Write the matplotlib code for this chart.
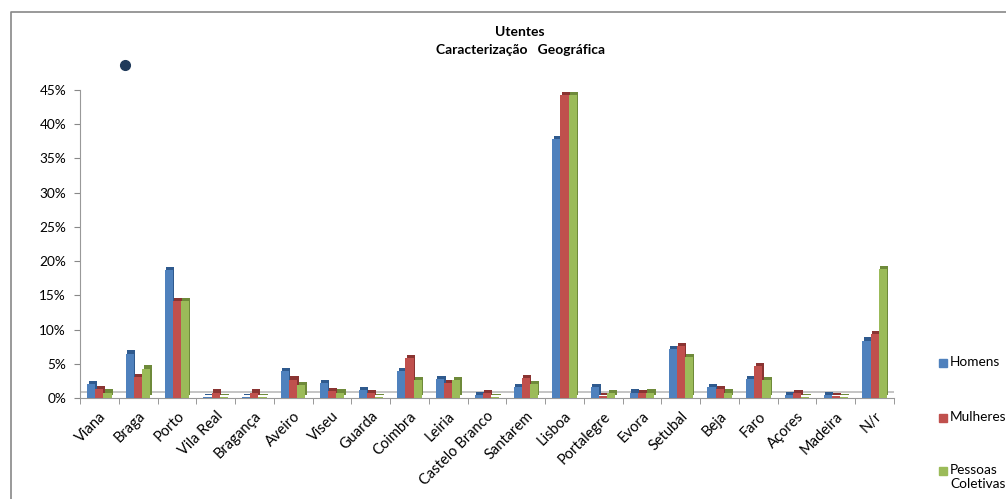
import numpy as np
import matplotlib.pyplot as plt
from matplotlib.lines import Line2D

plt.rcParams['font.family'] = ['Lato', 'DejaVu Sans']

regioes = ['Viana', 'Braga', 'Porto', 'Vila Real', 'Bragança', 'Aveiro', 'Viseu', 'Guarda',
           'Coimbra', 'Leiria', 'Castelo Branco', 'Santarem', 'Lisboa', 'Portalegre', 'Evora',
           'Setubal', 'Beja', 'Faro', 'Açores', 'Madeira', 'N/r']
homens = [2.1, 6.5, 18.7, 0.2, 0.2, 4.0, 2.2, 1.2, 4.0, 2.8, 0.4, 1.6, 37.9, 1.6, 0.8,
          7.1, 1.6, 2.8, 0.4, 0.4, 8.4]
mulheres = [1.3, 3.1, 14.1, 0.8, 0.8, 2.7, 1.0, 0.7, 5.8, 2.2, 0.7, 2.9, 44.2, 0.3, 0.7,
            7.6, 1.3, 4.7, 0.7, 0.3, 9.3]
coletivas = [0.8, 4.3, 14.1, 0.2, 0.2, 1.9, 0.8, 0.2, 2.6, 2.6, 0.2, 2.0, 44.3, 0.7, 0.8,
             6.0, 0.8, 2.6, 0.2, 0.2, 18.8]
series = ['Homens', 'Mulheres', 'Pessoas\nColetivas']
cores = ['#4F81BD', '#C0504D', '#9BBB59']
sombras = ['#2F5A8E', '#8A3432', '#6E8A3A']

n = len(regioes)
x = np.arange(n)

fig = plt.figure(figsize=(10.06, 4.99), dpi=100)
ax = fig.add_axes([80/1006, 1-398/499, (894-80)/1006, (398-90)/499])

w = 0.21
dx, dy = 0.07, 0.45
for k, vals in enumerate([homens, mulheres, coletivas]):
    v = np.array(vals) / 100
    pos = x + (k - 1) * w
    # lado escuro por tras para dar o efeito 3D
    ax.bar(pos + dx / 2, v, width=w, color=sombras[k], zorder=2 + k * 2, bottom=dy / 100)
    ax.bar(pos, v, width=w, color=cores[k], zorder=3 + k * 2)

ax.set_xlim(-0.5, n - 0.5)
ax.set_ylim(0, 0.45)
yt = np.arange(0, 0.46, 0.05)
ax.set_yticks(yt)
ax.set_yticklabels([f'{int(round(t*100))}%' for t in yt], fontsize=9.8)
ax.set_xticks(x)
ax.set_xticklabels(regioes, rotation=45, ha='right', rotation_mode='anchor', fontsize=10.5)
ax.set_xticks(np.arange(-0.5, n, 1), minor=True)
ax.tick_params(axis='x', which='major', length=0, pad=8)
ax.tick_params(axis='x', which='minor', length=4, color='#888888', direction='out')
ax.tick_params(axis='y', length=4, color='#888888', direction='out', pad=6)
for s in ['top', 'right']:
    ax.spines[s].set_visible(False)
ax.spines['left'].set_color('#999999')
ax.spines['bottom'].set_color('#999999')
ax.axhline(0.009, color='#BBBBBB', lw=1.2, zorder=1)

fig.text(520/1006, 1-32/499, 'Utentes', ha='center', va='center', fontsize=10, fontweight='bold')
fig.text(520/1006, 1-50/499, 'Caracterização   Geográfica', ha='center', va='center',
         fontsize=10, fontweight='bold')

# legenda
ys_marca = [363, 418, 471]
for k in range(3):
    fig.add_artist(Line2D([943/1006], [1-ys_marca[k]/499], marker='s', markersize=6,
                          color=cores[k], transform=fig.transFigure))
    fig.text(950/1006, 1-(ys_marca[k]-7)/499, series[k], ha='left', va='top', fontsize=9.8,
             linespacing=1.15)

fig.add_artist(Line2D([125/1006], [1-65/499], marker='o', markersize=7, color='#1F3A5A',
                      transform=fig.transFigure))
fig.add_artist(Line2D([11/1006, 11/1006, 1], [0, 1-12/499, 1-12/499], color='#888888',
                      lw=1.2, transform=fig.transFigure))

fig.savefig('out.png', dpi=100)
